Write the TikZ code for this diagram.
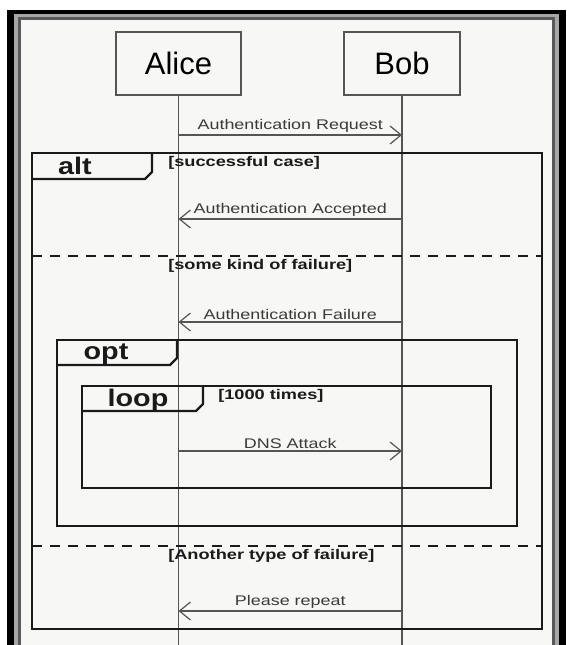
\documentclass[tikz,border=0pt]{standalone}
\usepackage{fontspec}
\setmainfont{Liberation Sans}
\usetikzlibrary{arrows.meta}

\definecolor{panel}{HTML}{F7F7F5}
\definecolor{lifegray}{HTML}{555555}
\definecolor{msggray}{HTML}{3A3A3A}
\definecolor{framegray}{HTML}{1A1A1A}

\tikzset{
    actor/.style={draw=lifegray, line width=1.5pt, fill=panel, minimum width=#1, minimum height=63pt, inner sep=0pt, font=\fontsize{31}{33}\selectfont},
    msg/.style={draw=lifegray, line width=1.3pt, -{Straight Barb[length=11pt, width=18pt, line width=1.2pt]}},
    msgtext/.style={above, inner sep=1.5pt, xscale=1.28, text=msggray, font=\fontsize{14}{16}\selectfont},
    guard/.style={anchor=west, inner sep=0pt, xscale=1.3, text=framegray, font=\bfseries\fontsize{14}{16}\selectfont},
    fragname/.style={inner sep=0pt, xscale=1.2, text=framegray, font=\bfseries\fontsize{24}{26}\selectfont},
    fragment/.style={draw=framegray, line width=2.4pt},
    separator/.style={draw=framegray, line width=2.4pt, dash pattern=on 10pt off 8pt}
}

\begin{document}
\begin{tikzpicture}[x=1pt, y=-1pt]
            \useasboundingbox (0,0) rectangle (566,645);
            
            % Window border
            \fill[white] (0,0) rectangle (566,645);
            \fill[black] (7,10) rectangle (566,645);
            \fill[gray!70] (14,14) rectangle (559,645);
            \fill[black!65] (18,17) rectangle (555,645);
            \fill[panel] (21,20) rectangle (552,645);
            
            % Participants
            \node[actor=125pt] (alice) at (178.5,63.5) {Alice};
            \node[actor=116pt] (bob) at (402,63.5) {Bob};
            
            % Lifelines
            \coordinate (alice-end) at (alice.south |- 0,645);
            \coordinate (bob-end) at (bob.south |- 0,645);
            \draw[lifegray, line width=1.8pt] (alice.south) -- (alice-end);
            \draw[lifegray, line width=1.8pt] (bob.south) -- (bob-end);
            
            % Message ends on the lifelines
            \coordinate (a1) at (alice.south |- 0,135);
            \coordinate (b1) at (bob.south |- 0,135);
            \coordinate (a2) at (alice.south |- 0,219);
            \coordinate (b2) at (bob.south |- 0,219);
            \coordinate (a3) at (alice.south |- 0,322);
            \coordinate (b3) at (bob.south |- 0,322);
            \coordinate (a4) at (alice.south |- 0,451);
            \coordinate (b4) at (bob.south |- 0,451);
            \coordinate (a5) at (alice.south |- 0,611);
            \coordinate (b5) at (bob.south |- 0,611);
            
            % alt fragment
            \draw[fragment] (32,153) rectangle (542,629);
            \draw[fragment] (32,179) -- (145,179) -- (152,172) -- (152,153);
            \node[fragname] (alt) at (75,166) {alt};
            \node[guard] (g1) at (168,163) {[successful case]};
            \draw[separator] (32,256) -- (542,256);
            \node[guard] (g2) at (168,266) {[some kind of failure]};
            \draw[separator] (32,546) -- (542,546);
            \node[guard] (g3) at (168,556) {[Another type of failure]};
            
            % opt fragment
            \draw[fragment] (57,340) rectangle (517,526);
            \draw[fragment] (57,365) -- (170,365) -- (177,358) -- (177,340);
            \node[fragname] (opt) at (106,354) {opt};
            
            % loop fragment
            \draw[fragment] (82,386) rectangle (491,488);
            \draw[fragment] (82,411) -- (196,411) -- (203,404) -- (203,386);
            \node[fragname] (loop) at (138,400) {loop};
            \node[guard] (g4) at (218,396) {[1000 times]};
            
            % Messages
            \draw[msg] (a1) -- (b1) node[msgtext, midway] {Authentication Request};
            \draw[msg] (b2) -- (a2) node[msgtext, midway] {Authentication Accepted};
            \draw[msg] (b3) -- (a3) node[msgtext, midway] {Authentication Failure};
            \draw[msg] (a4) -- (b4) node[msgtext, midway] {DNS Attack};
            \draw[msg] (b5) -- (a5) node[msgtext, midway] {Please repeat};
        \end{tikzpicture}
\end{document}
